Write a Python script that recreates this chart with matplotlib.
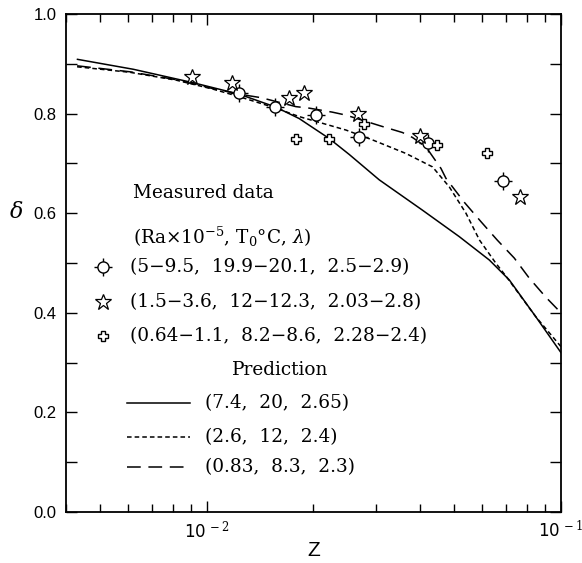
import math
import matplotlib
matplotlib.use("Agg")
import matplotlib.pyplot as plt
from matplotlib.ticker import FixedLocator, NullFormatter, FuncFormatter

plt.rcParams['mathtext.fontset'] = 'dejavuserif'

# Dados medidos
circ_z = [0.01234, 0.0156, 0.0203, 0.02682, 0.0420, 0.0687]
circ_d = [0.842, 0.813, 0.797, 0.754, 0.740, 0.665]

star_z = [0.0091, 0.01177, 0.01708, 0.01883, 0.02663, 0.03997, 0.0767]
star_d = [0.873, 0.862, 0.831, 0.842, 0.799, 0.755, 0.633]

plus_z = [0.0179, 0.02215, 0.02782, 0.04453, 0.0620]
plus_d = [0.750, 0.750, 0.779, 0.737, 0.7215]

# Curvas de previsao
sol_z = [0.00431, 0.0062, 0.00915, 0.01042, 0.01234, 0.01566, 0.01823, 0.02215,
         0.02523, 0.03067, 0.04064, 0.0516, 0.06275, 0.07145, 0.0849, 0.1]
sol_d = [0.909, 0.889, 0.862, 0.852, 0.839, 0.813, 0.790, 0.750,
         0.718, 0.667, 0.606, 0.553, 0.506, 0.466, 0.392, 0.320]

sd_z = [0.0043, 0.00606, 0.00821, 0.01042, 0.01234, 0.01566, 0.01823, 0.0247,
        0.0294, 0.03648, 0.04337, 0.04835, 0.0539, 0.05887, 0.06556, 0.07002,
        0.0849, 0.1]
sd_d = [0.894, 0.883, 0.867, 0.849, 0.834, 0.811, 0.794, 0.767,
        0.747, 0.720, 0.693, 0.653, 0.600, 0.546, 0.499, 0.473,
        0.392, 0.332]

ld_z = [0.0043, 0.00606, 0.00821, 0.01042, 0.01258, 0.01423, 0.01784, 0.01945,
        0.02259, 0.0247, 0.03101, 0.03568, 0.03809, 0.04157, 0.04581, 0.04733,
        0.05332, 0.05943, 0.06607, 0.07379, 0.08128, 0.09071, 0.1]
ld_d = [0.896, 0.884, 0.868, 0.850, 0.838, 0.832, 0.814, 0.811,
        0.803, 0.797, 0.775, 0.762, 0.752, 0.733, 0.690, 0.670,
        0.622, 0.583, 0.546, 0.510, 0.470, 0.431, 0.40]

fig = plt.figure(figsize=(5.82, 5.63), dpi=100)
ax = fig.add_axes([0.1134, 0.0906, 0.8505, 0.8845])

lw = 1.1
ax.plot(sol_z, sol_d, 'k-', lw=lw)
ax.plot(sd_z, sd_d, 'k', lw=lw, linestyle=(0, (3, 2)))
ax.plot(ld_z, ld_d, 'k', lw=lw, linestyle=(0, (9, 5)))

# circulos com barras
ax.plot(circ_z, circ_d, 'k+', ms=13, mew=1.0, ls='none')
ax.plot(circ_z, circ_d, 'o', ms=8, mfc='white', mec='k', mew=1.0, ls='none')
ax.plot(star_z, star_d, '*', ms=12, mfc='white', mec='k', mew=0.9, ls='none')
ax.plot(plus_z, plus_d, 'P', ms=7, mfc='white', mec='k', mew=1.0, ls='none')

ax.set_xscale('log')
ax.set_xlim(0.004, 0.1)
ax.set_ylim(0, 1.0)

ax.xaxis.set_major_locator(FixedLocator([0.01, 0.1]))
ax.xaxis.set_minor_locator(FixedLocator([k * 1e-3 for k in range(4, 10)] +
                                        [k * 1e-2 for k in range(2, 10)]))
ax.xaxis.set_minor_formatter(NullFormatter())
ax.xaxis.set_major_formatter(FuncFormatter(
    lambda v, p: r'$\mathsf{10}^{\,-%d}$' % round(-math.log10(v))))

ax.yaxis.set_major_locator(FixedLocator([0, 0.2, 0.4, 0.6, 0.8, 1.0]))
ax.yaxis.set_minor_locator(FixedLocator([0.1, 0.3, 0.5, 0.7, 0.9]))
ax.yaxis.set_major_formatter(FuncFormatter(lambda v, p: '%.1f' % v))

ax.tick_params(which='both', direction='in', top=True, right=True, width=1.0)
ax.tick_params(which='major', length=8, pad=7)
ax.tick_params(axis='x', which='major', pad=5)
ax.tick_params(which='minor', length=6)
ax.tick_params(axis='y', which='minor', length=8)
for lab in ax.get_xticklabels() + ax.get_yticklabels():
    lab.set_family('Liberation Sans')
    lab.set_fontsize(12)
for s in ax.spines.values():
    s.set_linewidth(1.3)

ax.set_xlabel('Z', fontsize=15, family='Liberation Sans', labelpad=0)
ax.set_ylabel(r'$\delta$', fontsize=16, rotation=0)
ax.yaxis.set_label_coords(-0.1, 0.582)

# Legenda manual
fs = 13.3
ff = 'DejaVu Serif'
tx = 0.13
ax.text(0.135, 0.64, 'Measured data', transform=ax.transAxes, fontsize=fs,
        family=ff, va='center')
ax.text(0.135, 0.553, r'(Ra$\times$10$^{-5}$, T$_0$°C, $\lambda$)',
        transform=ax.transAxes, fontsize=fs, family=ff, va='center')
rows = [0.491, 0.421, 0.354]
labels = ['(5\u22129.5,  19.9\u221220.1,  2.5\u22122.9)',
          '(1.5\u22123.6,  12\u221212.3,  2.03\u22122.8)',
          '(0.64\u22121.1,  8.2\u22128.6,  2.28\u22122.4)']
mx = 0.075
ax.plot(mx, rows[0], 'k+', ms=13, mew=1.0, transform=ax.transAxes, clip_on=False)
ax.plot(mx, rows[0], 'o', ms=8, mfc='white', mec='k', mew=1.0, transform=ax.transAxes)
ax.plot(mx, rows[1], '*', ms=12, mfc='white', mec='k', mew=0.9, transform=ax.transAxes)
ax.plot(mx, rows[2], 'P', ms=7, mfc='white', mec='k', mew=1.0, transform=ax.transAxes)
for r, t in zip(rows, labels):
    ax.text(tx, r, t, transform=ax.transAxes, fontsize=fs, family=ff, va='center')

ax.text(0.335, 0.285, 'Prediction', transform=ax.transAxes, fontsize=fs,
        family=ff, va='center')
prow = [0.218, 0.151, 0.091]
plab = ['(7.4,  20,  2.65)', '(2.6,  12,  2.4)', '(0.83,  8.3,  2.3)']
pls = ['-', (0, (3, 2)), (0, (9, 5))]
for r, t, s in zip(prow, plab, pls):
    ax.plot([0.123, 0.25], [r, r], color='k', lw=lw, linestyle=s, transform=ax.transAxes)
    ax.text(0.28, r, t, transform=ax.transAxes, fontsize=fs, family=ff, va='center')

fig.savefig('out.png', dpi=100)
